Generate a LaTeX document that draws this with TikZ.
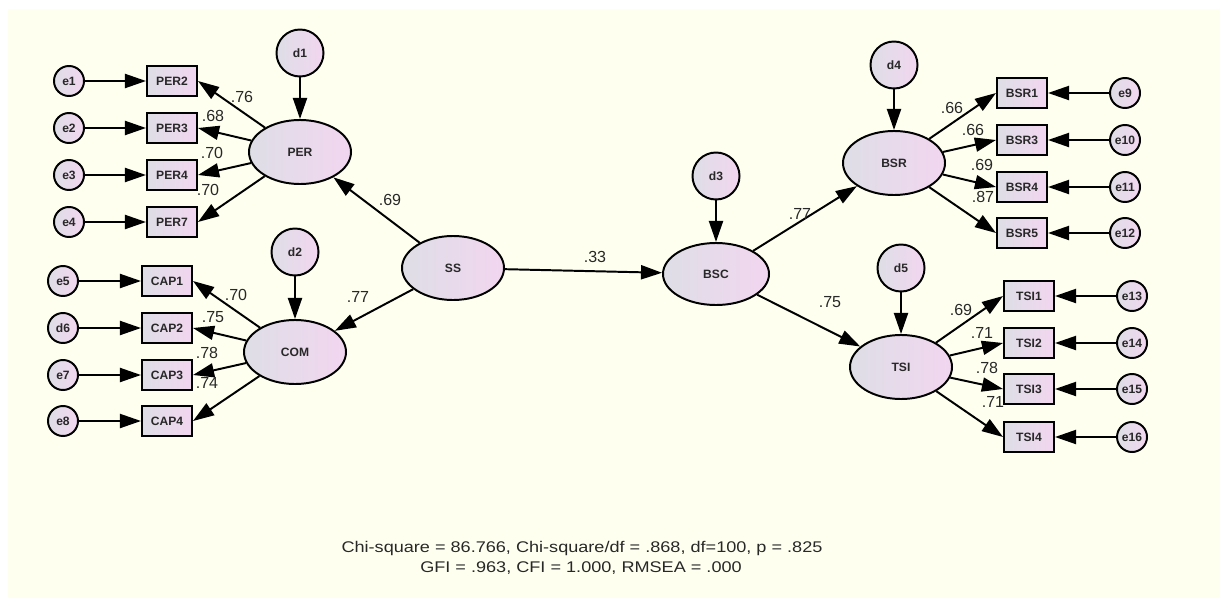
\documentclass[tikz,border=0pt]{standalone}
\usepackage{fontspec}
\setmainfont{Liberation Sans}
\newfontfamily\statfont[FakeStretch=1.17]{Liberation Sans}
\usetikzlibrary{arrows.meta,shapes.geometric}
\definecolor{paper}{RGB}{255,255,240}
\definecolor{shadeL}{RGB}{222,222,230}
\definecolor{shadeR}{RGB}{242,214,240}
\definecolor{ink}{RGB}{40,40,40}
\begin{document}
\begin{tikzpicture}[x=0.025cm,y=-0.025cm,
  every node/.style={inner sep=0pt},
  gfill/.style={draw=black,line width=1.4pt,left color=shadeL,right color=shadeR,text=ink},
  lbl/.style={font=\fontsize{8.6}{10}\selectfont\bfseries},
  latent/.style={gfill,lbl,ellipse,minimum width=2.55cm,minimum height=1.6cm},
  obs/.style={gfill,lbl,rectangle,minimum width=1.25cm,minimum height=0.76cm},
  enode/.style={gfill,lbl,circle,minimum size=0.75cm},
  dnode/.style={gfill,lbl,circle,minimum size=1.175cm},
  arr/.style={line width=1.4pt,-{Triangle[length=15pt,width=10pt]}},
  coef/.style={font=\fontsize{11.4}{13}\selectfont,text=ink},
]
% canvas
\fill[white] (0,0) rectangle (1220,598);
\fill[paper] (8,9) rectangle (1220,598);
\useasboundingbox (0,0) rectangle (1220,598);

% ---- latent variables ----
\node[latent] (PER) at (300,152) {PER};
\node[latent] (COM) at (295,352) {COM};
\node[latent] (SS)  at (453,268) {SS};
\node[latent,minimum width=2.65cm,minimum height=1.55cm] (BSC) at (716,274) {BSC};
\node[latent] (BSR) at (894,163) {BSR};
\node[latent] (TSI) at (901,367) {TSI};

% ---- disturbances ----
\node[dnode] (d1) at (300,53)  {d1};
\node[dnode] (d2) at (295,252) {d2};
\node[dnode] (d3) at (716,176) {d3};
\node[dnode] (d4) at (894,65)  {d4};
\node[dnode] (d5) at (901,268) {d5};

% ---- PER indicators ----
\node[obs] (PER2) at (172,81)  {PER2};
\node[obs] (PER3) at (172,128) {PER3};
\node[obs] (PER4) at (172,175) {PER4};
\node[obs] (PER7) at (172,222) {PER7};
\node[enode] (e1) at (69,81)  {e1};
\node[enode] (e2) at (69,128) {e2};
\node[enode] (e3) at (69,175) {e3};
\node[enode] (e4) at (69,222) {e4};

% ---- COM indicators ----
\node[obs] (CAP1) at (167,281) {CAP1};
\node[obs] (CAP2) at (167,328) {CAP2};
\node[obs] (CAP3) at (167,375) {CAP3};
\node[obs] (CAP4) at (167,421) {CAP4};
\node[enode] (e5) at (63,281) {e5};
\node[enode] (d6) at (63,328) {d6};
\node[enode] (e7) at (63,375) {e7};
\node[enode] (e8) at (63,421) {e8};

% ---- BSR indicators ----
\node[obs] (BSR1) at (1022,93)  {BSR1};
\node[obs] (BSR3) at (1022,140) {BSR3};
\node[obs] (BSR4) at (1022,187) {BSR4};
\node[obs] (BSR5) at (1022,233) {BSR5};
\node[enode] (e9)  at (1125,93)  {e9};
\node[enode] (e10) at (1125,140) {e10};
\node[enode] (e11) at (1125,187) {e11};
\node[enode] (e12) at (1125,233) {e12};

% ---- TSI indicators ----
\node[obs] (TSI1) at (1029,296) {TSI1};
\node[obs] (TSI2) at (1029,343) {TSI2};
\node[obs] (TSI3) at (1029,389) {TSI3};
\node[obs] (TSI4) at (1029,437) {TSI4};
\node[enode] (e13) at (1132,296) {e13};
\node[enode] (e14) at (1132,343) {e14};
\node[enode] (e15) at (1132,389) {e15};
\node[enode] (e16) at (1132,437) {e16};

% ---- structural paths ----
\draw[arr] (SS) -- (PER);
\draw[arr] (SS) -- (COM);
\draw[arr] (SS) -- (BSC);
\draw[arr] (BSC) -- (BSR);
\draw[arr] (BSC) -- (TSI);
\foreach \d/\l in {d1/PER,d2/COM,d3/BSC,d4/BSR,d5/TSI}
  \draw[arr] (\d) -- (\l);

% ---- measurement paths ----
\foreach \b in {PER2,PER3,PER4,PER7} \draw[arr] (PER) -- (\b.east);
\foreach \b in {CAP1,CAP2,CAP3,CAP4} \draw[arr] (COM) -- (\b.east);
\foreach \b in {BSR1,BSR3,BSR4,BSR5} \draw[arr] (BSR) -- (\b.west);
\foreach \b in {TSI1,TSI2,TSI3,TSI4} \draw[arr] (TSI) -- (\b.west);

% ---- error terms ----
\foreach \e/\b in {e1/PER2,e2/PER3,e3/PER4,e4/PER7,e5/CAP1,d6/CAP2,e7/CAP3,e8/CAP4}
  \draw[arr] (\e) -- (\b);
\foreach \e/\b in {e9/BSR1,e10/BSR3,e11/BSR4,e12/BSR5,e13/TSI1,e14/TSI2,e15/TSI3,e16/TSI4}
  \draw[arr] (\e) -- (\b);

% ---- coefficients ----
\node[coef] (c1)  at (242,97)  {.76};
\node[coef] (c2)  at (213,116) {.68};
\node[coef] (c3)  at (212,153) {.70};
\node[coef] (c4)  at (208,190) {.70};
\node[coef] (c5)  at (390,200) {.69};
\node[coef] (c6)  at (236,295) {.70};
\node[coef] (c7)  at (213,317) {.75};
\node[coef] (c8)  at (207,353) {.78};
\node[coef] (c9)  at (207,383) {.74};
\node[coef] (c10) at (358,297) {.77};
\node[coef] (c11) at (595,257) {.33};
\node[coef] (c12) at (800,214) {.77};
\node[coef] (c13) at (830,302) {.75};
\node[coef] (c14) at (952,108) {.66};
\node[coef] (c15) at (973,130) {.66};
\node[coef] (c16) at (982,165) {.69};
\node[coef] (c17) at (983,197) {.87};
\node[coef] (c18) at (961,310) {.69};
\node[coef] (c19) at (982,333) {.71};
\node[coef] (c20) at (987,368) {.78};
\node[coef] (c21) at (993,402) {.71};

% ---- fit statistics ----
\node[font=\statfont\fontsize{11}{13}\selectfont,text=ink] (fit1) at (582,548)
  {Chi-square = 86.766, Chi-square/df = .868, df=100, p = .825};
\node[font=\statfont\fontsize{11}{13}\selectfont,text=ink] (fit2) at (581,568)
  {GFI = .963, CFI = 1.000, RMSEA = .000};
\end{tikzpicture}
\end{document}
